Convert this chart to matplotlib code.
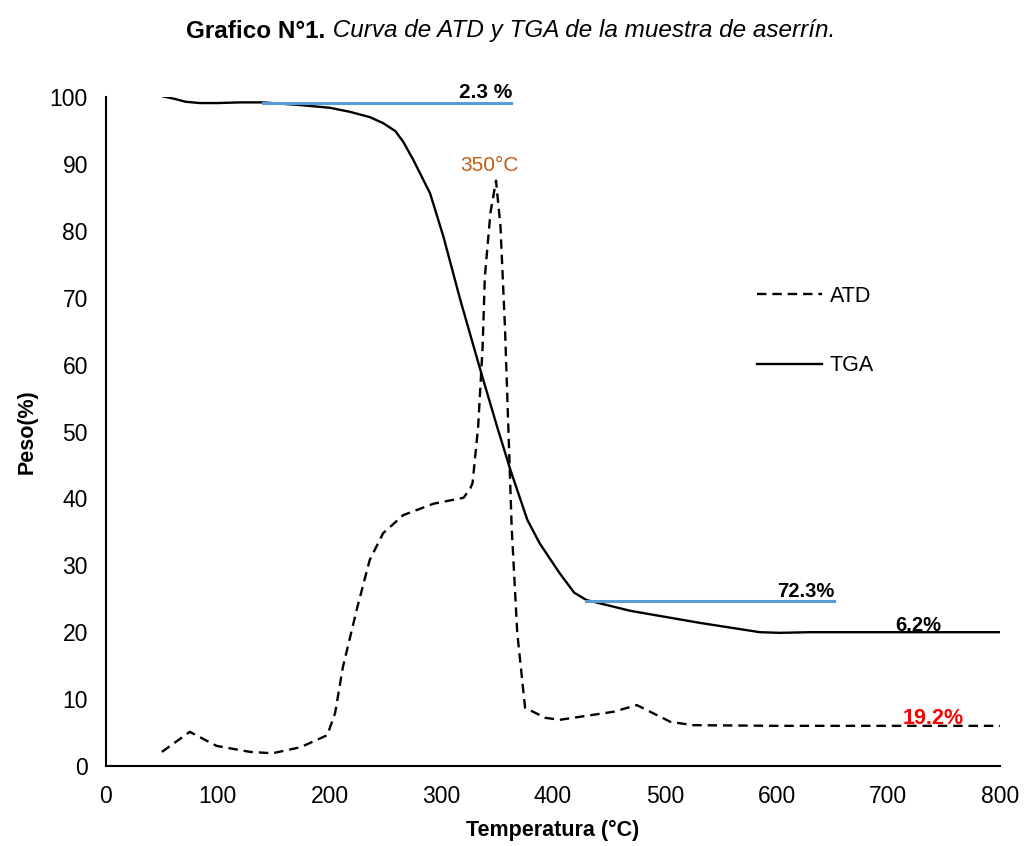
import matplotlib
matplotlib.use("Agg")
import matplotlib.pyplot as plt

FONT = "Liberation Sans"

# TGA curve (solid)
tga_temp = [51, 62, 71, 84, 100, 120, 140, 174, 200, 218, 236, 248, 259, 266,
            275, 290, 302, 317, 335, 350, 362, 377, 388, 406, 419, 430, 469,
            531, 585, 603, 630, 700, 800]
tga_peso = [100.1, 99.7, 99.3, 99.1, 99.1, 99.2, 99.2, 98.8, 98.4, 97.8, 97.0,
            96.1, 94.9, 93.3, 90.6, 85.6, 79.1, 69.7, 59.2, 50.7, 44.2, 36.8,
            33.3, 28.8, 25.9, 24.8, 23.2, 21.4, 20.0, 19.9, 20.0, 20.0, 20.0]

# ATD curve (dashed)
atd_temp = [50, 75, 99, 129, 149, 174, 198, 205, 212, 225, 236, 248, 266, 293,
            320, 326, 328, 333, 337, 339, 344, 349, 353, 357, 360, 363, 368,
            375, 393, 406, 454, 475, 505, 525, 600, 700, 800]
atd_peso = [2.1, 5.1, 3.0, 2.1, 1.9, 2.8, 4.6, 7.9, 14.8, 23.8, 30.8, 34.8,
            37.5, 39.2, 40.1, 41.5, 42.3, 50.7, 62.6, 73.1, 82.7, 87.5, 80.6,
            65.6, 50.7, 35.7, 19.9, 8.7, 7.2, 6.9, 8.1, 9.1, 6.6, 6.1, 6.0,
            6.0, 6.0]

# blue reference lines: (x start, x end, y)
ref_lines = [(140.5, 362.4, 99.1), (429.5, 651.5, 24.7)]

fig = plt.figure(figsize=(10.26, 8.46), dpi=100)
ax = fig.add_axes([0.1033, 0.0946, 0.8714, 0.7907])

ax.plot(atd_temp, atd_peso, color="black", lw=1.7, ls=(0, (4, 2.5)),
        dash_joinstyle="round", label="ATD")
ax.plot(tga_temp, tga_peso, color="black", lw=1.7, solid_joinstyle="round",
        label="TGA")

for x0, x1, y in ref_lines:
    ax.plot([x0, x1], [y, y], color="#5B9BD5", lw=2.2)

ax.text(339.5, 99.3, "2.3 %", ha="center", va="bottom", fontsize=15,
        fontweight="bold", family=FONT)
ax.text(343, 89.8, "350°C", ha="center", va="center", fontsize=15,
        color="#C55A11", family=FONT)
ax.text(626, 24.7, "72.3%", ha="center", va="bottom", fontsize=14.5,
        fontweight="bold", family=FONT)
ax.text(726.6, 19.6, "6.2%", ha="center", va="bottom", fontsize=14.5,
        fontweight="bold", family=FONT)
ax.text(740, 5.6, "19.2%", ha="center", va="bottom", fontsize=15.5,
        fontweight="bold", color="#FF0000", family=FONT)

ax.set_xlim(0, 800)
ax.set_ylim(0, 100)
ax.set_xticks(range(0, 801, 100))
ax.set_yticks(range(0, 101, 10))
ax.tick_params(axis="x", length=0, pad=14)
ax.tick_params(axis="y", length=0, pad=13)
for lab in ax.get_xticklabels() + ax.get_yticklabels():
    lab.set_family(FONT)
    lab.set_fontsize(16.5)

for s in ["top", "right"]:
    ax.spines[s].set_visible(False)
for s in ["left", "bottom"]:
    ax.spines[s].set_linewidth(1.5)

ax.set_xlabel("Temperatura (°C)", fontsize=15.5, fontweight="bold", family=FONT, labelpad=8)
ax.set_ylabel("Peso(%)", fontsize=15.5, fontweight="bold", family=FONT, labelpad=9)

ax.legend(loc="upper left", bbox_to_anchor=(0.7066, 0.7465), frameon=False,
          handlelength=3.0, labelspacing=2.25, handletextpad=0.37,
          prop={"family": FONT, "size": 15.5})

# title: bold part + italic part, centred together
TITLE_Y = 1 - 31 / 846
t1 = fig.text(0, TITLE_Y, "Grafico N°1.", ha="left", va="center",
              fontsize=17.5, fontweight="bold", family=FONT)
t2 = fig.text(0, TITLE_Y, " Curva de ATD y TGA de la muestra de aserrín.",
              ha="left", va="center", fontsize=17.5, style="italic", family=FONT)
fig.canvas.draw()
inv = fig.transFigure.inverted()
w1 = t1.get_window_extent().transformed(inv).width
w2 = t2.get_window_extent().transformed(inv).width
x0 = 0.4976 - (w1 + w2) / 2
t1.set_x(x0)
t2.set_x(x0 + w1)

fig.savefig("out.png", dpi=100)
